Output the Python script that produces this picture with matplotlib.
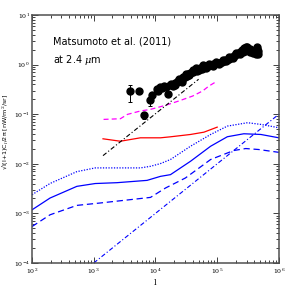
import math
import matplotlib
matplotlib.use("Agg")
import matplotlib.pyplot as plt
from matplotlib.ticker import LogLocator, FuncFormatter, NullFormatter

plt.rcParams['mathtext.fontset'] = 'dejavuserif'

# ---- data ----
# black points with large error bars
pt_l = [3930, 5350, 6620, 8070, 8900]
pt_y = [0.294, 0.29, 0.095, 0.197, 0.245]
pt_lo = [0.12, 0.04, 0.015, 0.05, 0.03]
pt_hi = [0.10, 0.04, 0.015, 0.03, 0.03]

# dense band of measurements
band_l = [10400, 11000, 12000, 13000, 14000, 15000, 16100, 17000, 18000, 19200,
          20500, 22000, 23500, 25000, 26500, 28000, 30000, 32000, 34000, 36000,
          38500, 41000, 44000, 47000, 50000, 53000, 56500, 60000, 64000, 68000,
          72500, 77000, 82000, 87000, 93000, 99000, 105000, 112000, 119000, 127000,
          135000, 144000, 153000, 163000, 174000, 185000, 197000, 210000, 224000, 238000,
          253000, 270000, 280000, 287000, 300000, 305000, 325000, 345000, 367000, 390000,
          415000, 420000, 440000, 440000, 450000, 460000,
          21000, 24000, 27000, 31000, 35000, 40000, 45500, 51500, 58000, 66000,
          75000, 85000, 96000, 108000, 123000, 140000, 158000, 180000, 204000, 231000,
          262000, 295000, 335000, 378000, 430000]
band_y = [0.32, 0.30, 0.35, 0.33, 0.37, 0.36, 0.25, 0.38, 0.40, 0.37,
          0.42, 0.44, 0.47, 0.50, 0.48, 0.55, 0.57, 0.60, 0.64, 0.68,
          0.72, 0.70, 0.78, 0.75, 0.83, 0.86, 0.82, 0.90, 0.93, 0.89,
          0.97, 1.00, 0.97, 1.05, 1.03, 1.08, 1.10, 1.07, 1.15, 1.18,
          1.22, 1.25, 1.30, 1.38, 1.42, 1.50, 1.55, 1.62, 1.70, 1.80,
          1.95, 2.15, 1.85, 2.05, 2.30, 1.95, 1.85, 1.80, 1.90, 1.85,
          1.95, 1.60, 2.05, 2.30, 1.65, 1.85,
          0.38, 0.52, 0.45, 0.64, 0.62, 0.78, 0.86, 0.78, 0.96, 0.86,
          1.05, 0.92, 1.13, 1.02, 1.25, 1.16, 1.40, 1.38, 1.72, 1.66,
          1.80, 2.25, 2.05, 1.75, 1.70]
band_err = [0.03] * len(band_l)

# magenta dashed
mag_l = [1443, 2700, 3510, 5700, 8300, 14550, 23700, 40000, 58100, 72700, 94600]
mag_y = [0.0785, 0.081, 0.099, 0.116, 0.125, 0.151, 0.184, 0.232, 0.294, 0.366, 0.447]

# black dash-dot
bdd_l = [1413, 50000]
bdd_y = [0.0146, 0.506]

# red solid
red_l = [1413, 2700, 5700, 12050, 17500, 37000, 61000, 100000]
red_y = [0.0319, 0.0285, 0.0334, 0.0334, 0.035, 0.039, 0.0434, 0.0548]

# blue dotted
bdot_l = [100, 196, 533, 1057, 2380, 5700, 8300, 12050, 17500, 37000, 78300, 146000, 310000, 510000, 1000000]
bdot_y = [0.00238, 0.00401, 0.00695, 0.00826, 0.00826, 0.00826, 0.0089, 0.0101, 0.0122, 0.0226, 0.039, 0.0575, 0.0673, 0.0622, 0.0533]

# blue solid
bsol_l = [100, 196, 533, 1057, 2380, 7300, 12050, 17500, 37000, 78300, 146000, 270000, 510000, 1000000]
bsol_y = [0.00118, 0.00204, 0.00351, 0.0040, 0.00416, 0.00463, 0.00558, 0.00604, 0.01125, 0.0226, 0.0351, 0.0403, 0.039, 0.0334]

# blue dashed
bdash_l = [100, 196, 533, 1270, 8300, 14550, 30600, 78300, 185000, 290000, 470000, 1000000]
bdash_y = [0.000543, 0.000937, 0.00145, 0.00162, 0.0021, 0.00325, 0.00518, 0.0122, 0.0185, 0.0203, 0.0194, 0.017]

# blue dash-dot (straight)
bdd2_l = [1000, 1000000]
bdd2_y = [0.0001, 0.1]

xticks = [1e2, 1e3, 1e4, 1e5, 1e6]
yticks = [1e-4, 1e-3, 1e-2, 1e-1, 1e0, 1e1]

# ---- figure ----
fig = plt.figure(figsize=(2.95, 2.95), dpi=100)
ax = fig.add_axes([0.1085, 0.1085, 0.837, 0.8407])
ax.set_xscale('log')
ax.set_yscale('log')
ax.set_xlim(1e2, 1e6)
ax.set_ylim(1e-4, 1e1)

blue = '#0000ff'
ax.plot(bdot_l, bdot_y, color=blue, lw=0.9, linestyle=(0, (1, 1.2)))
ax.plot(bsol_l, bsol_y, color=blue, lw=0.9)
ax.plot(bdash_l, bdash_y, color=blue, lw=0.9, linestyle=(0, (5, 3)))
ax.plot(bdd2_l, bdd2_y, color=blue, lw=0.8, linestyle=(0, (4, 2, 1, 2)))

ax.plot(red_l, red_y, color='#ff0000', lw=0.9)
ax.plot(mag_l, mag_y, color='#ff00ff', lw=0.9, linestyle=(0, (4, 2.5)))
ax.plot(bdd_l, bdd_y, color='black', lw=0.8, linestyle=(0, (4, 2, 1, 2)))

ax.errorbar(pt_l, pt_y, yerr=[pt_lo, pt_hi], fmt='o', color='black', ms=5,
            elinewidth=0.7, capsize=1.5, capthick=0.7)
ax.errorbar(band_l, band_y, yerr=band_err, fmt='o', color='black', ms=5,
            elinewidth=0.7, capsize=0)

ax.text(0.083, 0.895, 'Matsumoto et al. (2011)', transform=ax.transAxes,
        fontsize=7, family='DejaVu Sans', va='center', ha='left')
ax.text(0.083, 0.82, 'at 2.4 $\\mu$m', transform=ax.transAxes,
        fontsize=7, family='DejaVu Sans', va='center', ha='left')

# ticks
for axis in (ax.xaxis, ax.yaxis):
    axis.set_minor_locator(LogLocator(base=10, subs=range(2, 10), numticks=20))
    axis.set_minor_formatter(NullFormatter())
fmt = FuncFormatter(lambda v, p: '$10^{%d}$' % round(math.log10(v)))
ax.set_xticks(xticks)
ax.set_yticks(yticks)
ax.xaxis.set_major_formatter(fmt)
ax.yaxis.set_major_formatter(fmt)
ax.tick_params(which='both', direction='in', top=True, right=True, labelsize=4.5,
               color='#404040', width=0.7)
ax.tick_params(which='major', length=4, pad=2.5)
ax.tick_params(axis='y', which='major', pad=1.5)
ax.tick_params(which='minor', length=2)
for s in ax.spines.values():
    s.set_color('#505050')
    s.set_linewidth(1.1)

ax.set_xlabel('l', fontsize=6, family='DejaVu Serif', labelpad=2)
ax.set_ylabel('√l(l+1)C$_l$/2π [nW/m$^2$/sr]', fontsize=4.6,
              family='DejaVu Sans')
ax.yaxis.set_label_coords(-0.085, 0.53)

fig.savefig('out.png', dpi=100)
